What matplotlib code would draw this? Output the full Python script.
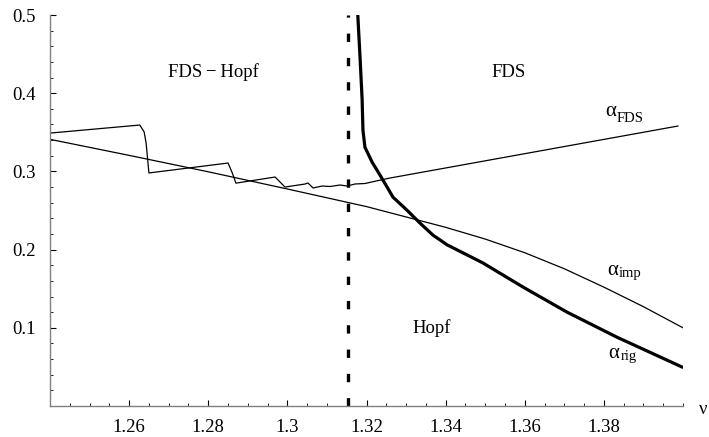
import matplotlib
matplotlib.use("Agg")
import matplotlib.pyplot as plt
from matplotlib.ticker import MultipleLocator, FixedLocator

plt.rcParams['font.family'] = ['Liberation Serif', 'DejaVu Serif']
plt.rcParams['lines.scale_dashes'] = False

# alpha_FDS (sawtooth boundary)
fds_x = [1.24, 1.2627, 1.2638, 1.2643, 1.2650, 1.2850, 1.2860, 1.2870, 1.2969,
         1.2994, 1.3045, 1.3052, 1.3065, 1.3088, 1.3108, 1.3133, 1.3151, 1.3171,
         1.3196, 1.3227, 1.3259, 1.3987]
fds_y = [0.349, 0.3593, 0.3504, 0.336, 0.298, 0.3107, 0.299, 0.285, 0.2928,
         0.280, 0.2839, 0.2852, 0.2788, 0.2813, 0.2807, 0.2826, 0.2813, 0.2839,
         0.2845, 0.2880, 0.2915, 0.358]

# alpha_imp
imp_x = [1.24, 1.26, 1.28, 1.30, 1.32, 1.34, 1.35, 1.36, 1.37, 1.38, 1.39, 1.40]
imp_y = [0.341, 0.3205, 0.2995, 0.2775, 0.2550, 0.2285, 0.2135, 0.1960, 0.1755, 0.1520, 0.1270, 0.1000]

# alpha_rig
rig_x = [1.3178, 1.3184, 1.3189, 1.3191, 1.3196, 1.3214, 1.3234, 1.3252, 1.3267,
         1.3302, 1.3335, 1.3368, 1.3386, 1.3404, 1.3494, 1.3596, 1.3707, 1.3833, 1.3997]
rig_y = [0.500, 0.4425, 0.3913, 0.353, 0.331, 0.312, 0.2954, 0.280, 0.267,
         0.2506, 0.234, 0.2185, 0.2123, 0.2060, 0.183, 0.152, 0.120, 0.088, 0.050]

# vertical dashed boundary
nu_c = 1.3152

xticks = [1.26, 1.28, 1.30, 1.32, 1.34, 1.36, 1.38]
xticklabels = ['1.26', '1.28', '1.3', '1.32', '1.34', '1.36', '1.38']
yticks = [0.1, 0.2, 0.3, 0.4, 0.5]
yticklabels = ['0.1', '0.2', '0.3', '0.4', '0.5']

fig = plt.figure(figsize=(7.09, 4.37), dpi=100)
ax = fig.add_axes([50/709, 1-406/437, 633/709, 391/437])
ax.set_xlim(1.24, 1.40)
ax.set_ylim(0.0, 0.5)

ax.plot(fds_x, fds_y, color='black', lw=0.9)
ax.plot(imp_x, imp_y, color='black', lw=0.9)
ax.plot(rig_x, rig_y, color='black', lw=2.3, solid_joinstyle='round')
ax.plot([nu_c, nu_c], [0.0, 0.5], color='black', lw=2.4, dashes=(6, 11.5))

for s in ['top', 'right']:
    ax.spines[s].set_visible(False)
for s in ['left', 'bottom']:
    ax.spines[s].set_color('#808080')
    ax.spines[s].set_linewidth(1.0)

ax.xaxis.set_major_locator(FixedLocator(xticks))
ax.set_xticklabels(xticklabels)
ax.xaxis.set_minor_locator(MultipleLocator(0.005))
ax.yaxis.set_major_locator(FixedLocator(yticks))
ax.set_yticklabels(yticklabels)
ax.yaxis.set_minor_locator(MultipleLocator(0.02))
ax.tick_params(which='major', direction='in', length=4.5, width=0.8, color='black',
               labelsize=13.5, pad=9)
ax.tick_params(which='minor', direction='in', length=2.5, width=0.6, color='black')
ax.tick_params(axis='y', pad=10)

fs = 13.5
ax.text(1.2812, 0.427, 'FDS\u2009\u2212\u2009Hopf', fontsize=fs, ha='center', va='center')
ax.text(1.3558, 0.427, 'FDS', fontsize=fs, ha='center', va='center')
ax.text(1.3366, 0.100, 'Hopf', fontsize=fs, ha='center', va='center')


def alpha_label(x, y, sub, dx, dy):
    ax.text(x, y, '\u03b1', fontsize=15, ha='left', va='baseline')
    ax.annotate(sub, xy=(x, y), xytext=(dx, dy), textcoords='offset points',
                fontsize=10.5, ha='left', va='baseline')


alpha_label(1.3803, 0.3708, 'FDS', 8.6, -4.3)
alpha_label(1.3808, 0.1675, 'imp', 8.3, -1.6)
alpha_label(1.3810, 0.0614, 'rig', 9.0, -1.6)

fig.text(699/709, 1-410/437, '\u03bd', fontsize=fs, ha='left', va='center')

fig.savefig('out.png', dpi=100)
